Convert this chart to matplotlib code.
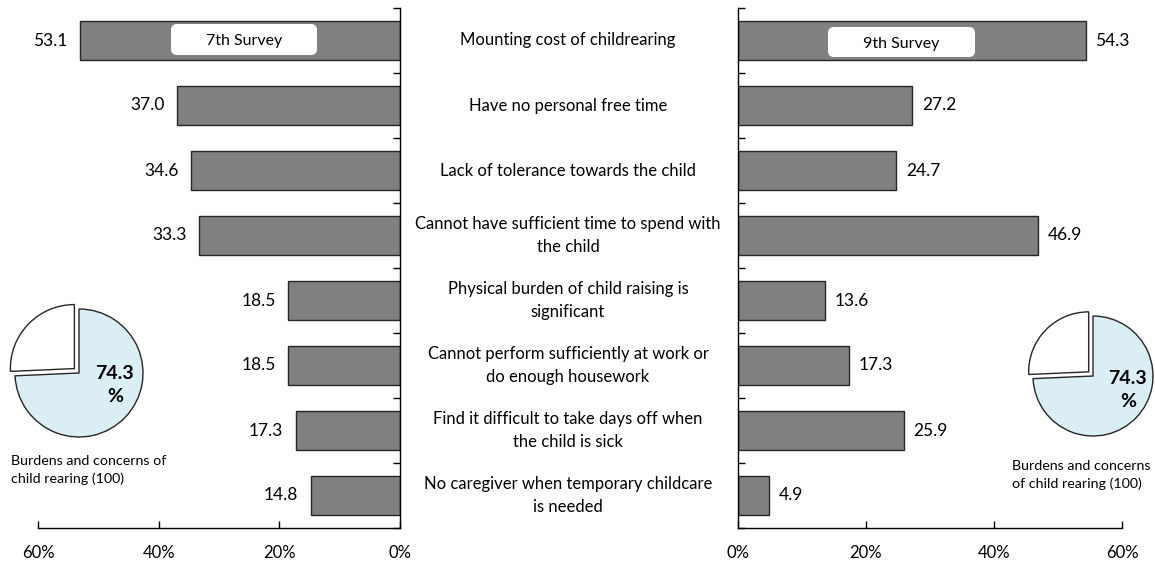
import numpy as np
import matplotlib
matplotlib.use("Agg")
import matplotlib.pyplot as plt
from matplotlib.patches import FancyBboxPatch
from matplotlib.transforms import blended_transform_factory, IdentityTransform

# survey results (%)
categories = [
    "Mounting cost of childrearing",
    "Have no personal free time",
    "Lack of tolerance towards the child",
    "Cannot have sufficient time to spend with\nthe child",
    "Physical burden of child raising is\nsignificant",
    "Cannot perform sufficiently at work or\ndo enough housework",
    "Find it difficult to take days off when\nthe child is sick",
    "No caregiver when temporary childcare\nis needed",
]
survey7 = [53.1, 37.0, 34.6, 33.3, 18.5, 18.5, 17.3, 14.8]
survey9 = [54.3, 27.2, 24.7, 46.9, 13.6, 17.3, 25.9, 4.9]
pie_share = [74.3, 25.7]
xticks = [0, 20, 40, 60]

plt.rcParams['font.family'] = ['Lato', 'DejaVu Sans']

BAR = '#808080'
EDGE = '#262626'
PIE_BLUE = '#DAEEF3'

fig = plt.figure(figsize=(11.55, 5.63), dpi=100)
W, H = 1155, 563


def px_axes(x0, y0, x1, y1):
    """axes from pixel box (top-left origin)"""
    return fig.add_axes([x0 / W, 1 - y1 / H, (x1 - x0) / W, (y1 - y0) / H])


y = np.arange(len(categories))


def style_bar_axis(ax, side):
    ax.set_ylim(len(categories) - 0.5, -0.5)
    ax.set_xticks(xticks)
    ax.set_xticklabels([f"{t}%" for t in xticks], fontsize=12)
    ax.set_yticks(np.arange(-0.5, len(categories) + 0.5, 1))
    ax.set_yticklabels([])
    ax.tick_params(axis='x', direction='in', length=5, pad=12, width=1)
    ax.tick_params(axis='y', direction='in', length=5, width=1)
    ax.spines['top'].set_visible(False)
    other = 'left' if side == 'right' else 'right'
    ax.spines[other].set_visible(False)
    for s in ('bottom', side):
        ax.spines[s].set_linewidth(1)
    ax.yaxis.set_ticks_position(side)
    ax.patch.set_alpha(0)


# 7th survey, bars growing leftwards
ax_l = px_axes(38, 8, 400, 528)
ax_l.barh(y, survey7, height=0.6, color=BAR, edgecolor=EDGE, linewidth=1)
ax_l.set_xlim(60, 0)
style_bar_axis(ax_l, 'right')
for i, v in enumerate(survey7):
    ax_l.annotate(f"{v:.1f}", (v, i), xytext=(-9, 0), textcoords='offset points',
                  ha='right', va='center', fontsize=12.5)

# 9th survey, bars growing rightwards
ax_r = px_axes(738, 8, 1122, 528)
ax_r.barh(y, survey9, height=0.6, color=BAR, edgecolor=EDGE, linewidth=1)
ax_r.set_xlim(0, 60)
style_bar_axis(ax_r, 'left')
for i, v in enumerate(survey9):
    ax_r.annotate(f"{v:.1f}", (v, i), xytext=(7, 0), textcoords='offset points',
                  ha='left', va='center', fontsize=12.5)


def survey_box(x0, y0, x1, y1, label):
    """white rounded label box, pixel coordinates with top-left origin"""
    patch = FancyBboxPatch((x0, H - y1), x1 - x0, y1 - y0,
                           boxstyle='round,pad=0,rounding_size=6',
                           fc='white', ec='none', transform=IdentityTransform())
    fig.add_artist(patch)
    fig.text((x0 + x1) / 2 / W, 1 - ((y0 + y1) / 2 + 2) / H, label,
             ha='center', va='center', fontsize=11.5)


survey_box(171, 24, 317, 55, "7th Survey")
survey_box(828, 27, 975, 57, "9th Survey")

# category labels in the middle column
tr = blended_transform_factory(fig.transFigure, ax_l.transData)
for i, lab in enumerate(categories):
    fig.text(568 / W, i, lab, transform=tr, ha='center', va='center',
             fontsize=12, linespacing=1.55)


def draw_pie(cx, cy, r, txt_xy):
    half = 80
    ax = px_axes(cx - half, cy - half, cx + half, cy + half)
    ax.pie(pie_share, colors=[PIE_BLUE, 'white'], startangle=90, counterclock=False,
           explode=[0, 0.1], wedgeprops=dict(edgecolor=EDGE, linewidth=1))
    lim = half / r
    ax.set_xlim(-lim, lim)
    ax.set_ylim(-lim, lim)
    ax.set_aspect('equal')
    ax.axis('off')
    ax.text(*txt_xy, f"{pie_share[0]}\n%", ha='center', va='center', fontsize=14,
            fontweight='bold', linespacing=1.45)
    return ax


draw_pie(79, 373, 64, (0.56, -0.19))
draw_pie(1093, 376, 60, (0.58, -0.23))

fig.text(11 / W, 1 - 470 / H, "Burdens and concerns of\nchild rearing (100)",
         ha='left', va='center', fontsize=10.3, linespacing=1.55)
fig.text(1012 / W, 1 - 475 / H, "Burdens and concerns\nof child rearing (100)",
         ha='left', va='center', fontsize=10.3, linespacing=1.55)

fig.savefig("out.png", dpi=100)
